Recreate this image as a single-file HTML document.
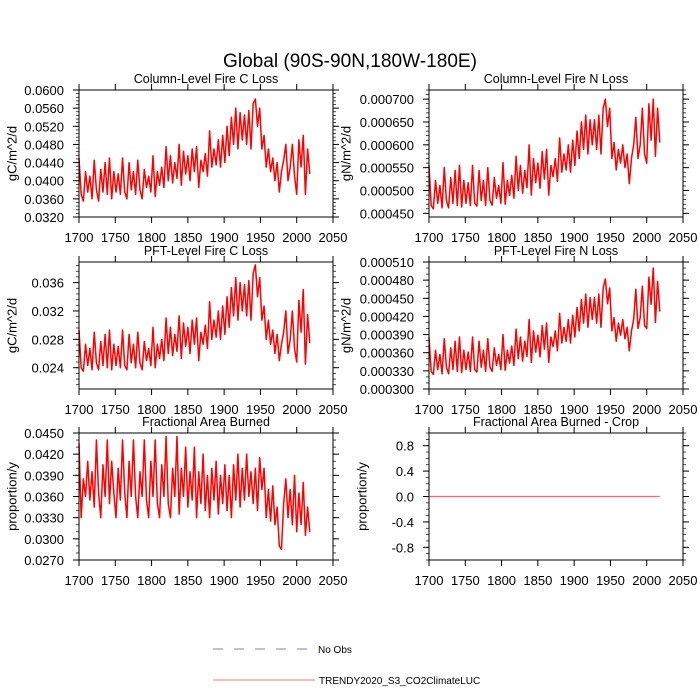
<!DOCTYPE html>
<html><head><meta charset="utf-8"><style>
html,body{margin:0;padding:0;background:#fff;}
svg{display:block;font-family:"Liberation Sans",Arial,sans-serif;}
</style></head><body>
<svg id="chart" width="700" height="700" viewBox="0 0 700 700">
<text x="350" y="67" font-size="19" text-anchor="middle" textLength="254" lengthAdjust="spacingAndGlyphs">Global (90S-90N,180W-180E)</text>
<g>
<line x1="213" y1="649" x2="308" y2="649" stroke="#7777ff" stroke-width="1" stroke-dasharray="10,11"/>
<text x="318" y="653" font-size="10">No Obs</text>
<line x1="213" y1="680" x2="315" y2="680" stroke="#ff7777" stroke-width="1"/>
<text x="319" y="684" font-size="10">TRENDY2020_S3_CO2ClimateLUC</text>
</g>
</svg>
<script>
const startYear = 1700, endYear = 2018;
const xTicks = [1700,1750,1800,1850,1900,1950,2000,2050];
const colC = [.0450,.0370,.0355,.0420,.0375,.0410,.0360,.0445,.0380,.0355,.0425,.0375,.0440,.0370,.0450,.0360,.0420,.0375,.0415,.0370,.0450,.0375,.0360,.0440,.0380,.0420,.0370,.0445,.0380,.0360,.0425,.0385,.0410,.0375,.0455,.0365,.0420,.0390,.0430,.0385,.0475,.0400,.0455,.0395,.0440,.0405,.0480,.0390,.0465,.0415,.0455,.0400,.0470,.0420,.0475,.0385,.0445,.0420,.0460,.0410,.0510,.0430,.0470,.0435,.0490,.0430,.0500,.0440,.0520,.0455,.0540,.0480,.0560,.0470,.0550,.0490,.0545,.0480,.0555,.0470,.0570,.0580,.0520,.0560,.0470,.0500,.0430,.0470,.0420,.0450,.0400,.0440,.0375,.0420,.0445,.0480,.0400,.0430,.0480,.0410,.0370,.0490,.0430,.0500,.0370,.0470,.0415];
const colN = [555,467,460,522,472,511,462,550,478,462,528,472,544,467,555,464,522,472,517,467,555,472,466,544,478,522,467,550,478,468,528,483,511,472,561,470,522,489,533,483,575,500,555,494,544,506,600,490,570,517,560,505,585,525,590,490,555,530,570,520,615,540,580,545,600,540,610,555,630,570,650,590,665,580,655,600,655,590,665,580,680,700,640,680,570,605,545,590,560,600,550,580,515,570,600,660,570,600,680,580,560,690,610,700,575,680,605].map(v=>v*1e-6);
const pftC = [.0293,.0240,.0235,.0273,.0243,.0267,.0237,.0290,.0247,.0237,.0277,.0243,.0287,.0240,.0293,.0237,.0273,.0243,.0270,.0240,.0293,.0243,.0237,.0287,.0247,.0273,.0240,.0290,.0247,.0237,.0277,.0250,.0267,.0243,.0297,.0240,.0273,.0253,.0280,.0250,.0310,.0260,.0297,.0257,.0287,.0263,.0313,.0253,.0303,.0270,.0297,.0260,.0307,.0273,.0310,.0250,.0290,.0273,.0300,.0267,.0333,.0280,.0307,.0283,.0320,.0280,.0327,.0287,.0340,.0297,.0353,.0313,.0367,.0307,.0360,.0320,.0357,.0313,.0363,.0307,.0373,.0385,.0340,.0367,.0307,.0327,.0280,.0307,.0273,.0293,.0260,.0287,.0250,.0273,.0290,.0320,.0260,.0280,.0320,.0267,.0248,.0335,.0290,.0350,.0245,.0315,.0275];
const pftN = [386,329,324,364,332,357,325,383,336,325,368,332,379,329,386,327,364,332,361,329,386,332,328,379,336,364,329,383,336,329,368,339,357,332,390,331,364,343,371,339,399,350,386,346,379,354,415,344,396,361,389,353,405,366,409,344,386,370,396,363,425,376,402,379,415,376,422,386,435,396,448,409,457,402,451,415,451,409,457,402,467,482,441,467,396,418,379,409,389,415,383,402,363,396,415,465,400,418,470,405,400,485,440,500,410,478,428].map(v=>v*1e-6);
const fracBurned = [.0435,.0330,.0385,.0360,.0410,.0355,.0395,.0345,.0440,.0365,.0330,.0405,.0360,.0440,.0350,.0410,.0365,.0330,.0400,.0355,.0440,.0365,.0330,.0410,.0360,.0440,.0360,.0330,.0395,.0360,.0440,.0355,.0330,.0410,.0360,.0440,.0350,.0330,.0405,.0360,.0445,.0350,.0330,.0400,.0360,.0445,.0335,.0400,.0360,.0430,.0345,.0395,.0355,.0430,.0330,.0395,.0350,.0420,.0340,.0390,.0330,.0400,.0355,.0410,.0335,.0390,.0350,.0405,.0340,.0390,.0330,.0405,.0355,.0420,.0345,.0400,.0355,.0420,.0360,.0395,.0350,.0400,.0340,.0415,.0370,.0400,.0330,.0370,.0325,.0375,.0320,.0345,.0290,.0285,.0350,.0385,.0330,.0370,.0320,.0390,.0310,.0365,.0320,.0380,.0305,.0345,.0310];
const fracCrop = [0,0,0,0,0,0,0,0];
const ticksColC = ["0.0320","0.0360","0.0400","0.0440","0.0480","0.0520","0.0560","0.0600"];
const ticksColN = ["0.000450","0.000500","0.000550","0.000600","0.000650","0.000700"];
const ticksPftC = ["0.024","0.028","0.032","0.036"];
const ticksPftN = ["0.000300","0.000330","0.000360","0.000390","0.000420","0.000450","0.000480","0.000510"];
const ticksFrac = ["0.0270","0.0300","0.0330","0.0360","0.0390","0.0420","0.0450"];
const ticksCrop = ["-0.8","-0.4","0.0","0.4","0.8"];

const NS="http://www.w3.org/2000/svg";
const svg=document.getElementById('chart');
function mk(tag,attrs,parent){const e=document.createElementNS(NS,tag);for(const k in attrs)e.setAttribute(k,attrs[k]);(parent||svg).appendChild(e);return e;}

const panels=[
 {name:'column-c-loss',title:'Column-Level Fire C Loss',unit:'gC/m^2/d',x0:79,y0:90,ymin:0.032,ymax:0.060,data:colC,ticks:ticksColC,minor:0.0008,tx:12},
 {name:'column-n-loss',title:'Column-Level Fire N Loss',unit:'gN/m^2/d',x0:429,y0:90,ymin:0.000442,ymax:0.00072,data:colN,ticks:ticksColN,minor:0.00001,tx:346},
 {name:'pft-c-loss',title:'PFT-Level Fire C Loss',unit:'gC/m^2/d',x0:79,y0:262,ymin:0.021,ymax:0.0389,data:pftC,ticks:ticksPftC,minor:0.0008,tx:12},
 {name:'pft-n-loss',title:'PFT-Level Fire N Loss',unit:'gN/m^2/d',x0:429,y0:262,ymin:0.0003,ymax:0.00051,data:pftN,ticks:ticksPftN,minor:0.00001,tx:346},
 {name:'fraction-burned',title:'Fractional Area Burned',unit:'proportion/y',x0:79,y0:433,ymin:0.027,ymax:0.045,data:fracBurned,ticks:ticksFrac,minor:0.001,tx:12},
 {name:'fraction-burned-crop',title:'Fractional Area Burned - Crop',unit:'proportion/y',x0:429,y0:433,ymin:-1,ymax:1,data:fracCrop,ticks:ticksCrop,minor:0.1,tx:362}
];
const W=254,H=127;
panels.forEach(p=>{
 const g=mk('g',{});
 
 
 const xs=v=>p.x0+(v-1700)/(2050-1700)*W;
 const ys=v=>p.y0+H-(v-p.ymin)/(p.ymax-p.ymin)*H;
 const n=p.data.length;
 const pts=p.data.map((v,i)=>xs(startYear+i*(endYear-startYear)/(n-1)).toFixed(2)+','+ys(v).toFixed(2)).join(' ');
 const line=mk('polyline',{points:pts,fill:'none',stroke:p.name==='fraction-burned-crop'?'#ff6666':'#ff0000','stroke-width':p.name==='fraction-burned-crop'?1.2:1.5,'stroke-linejoin':'round'},g);
 
 
 const fr=mk('rect',{x:p.x0,y:p.y0,width:W,height:H,fill:'none',stroke:'#000','stroke-width':1},g);
 
 
 xTicks.forEach(t=>{
  const x=xs(t);
  mk('line',{x1:x,y1:p.y0+H,x2:x,y2:p.y0+H+6,stroke:'#000'},g);
  mk('line',{x1:x,y1:p.y0,x2:x,y2:p.y0-6,stroke:'#000'},g);
  const tl=mk('text',{x:x,y:p.y0+H+25,'font-size':13,'text-anchor':'middle'},g);
  tl.textContent=t;
  
  
 });
 const start=Math.ceil(p.ymin/p.minor-1e-6);
 for(let k=start;k*p.minor<=p.ymax+1e-12;k++){
  const y=ys(k*p.minor);
  mk('line',{x1:p.x0,y1:y,x2:p.x0-3,y2:y,stroke:'#000','stroke-width':0.7},g);
  mk('line',{x1:p.x0+W,y1:y,x2:p.x0+W+3,y2:y,stroke:'#000','stroke-width':0.7},g);
 }
 p.ticks.forEach(s=>{
  const y=ys(parseFloat(s));
  mk('line',{x1:p.x0,y1:y,x2:p.x0-6,y2:y,stroke:'#000'},g);
  mk('line',{x1:p.x0+W,y1:y,x2:p.x0+W+6,y2:y,stroke:'#000'},g);
  const tl=mk('text',{x:p.x0-15,y:y+5,'font-size':13,'text-anchor':'end'},g);
  tl.textContent=s;
  
  
 });
 const st=mk('text',{x:p.x0+W/2,y:p.y0-7,'font-size':12.5,'text-anchor':'middle'},g);
 st.textContent=p.title;
 
 
 const ax=p.tx;
 const yt=mk('text',{x:ax,y:p.y0+H/2,'font-size':13,'text-anchor':'middle','dominant-baseline':'central',transform:`rotate(-90 ${ax} ${p.y0+H/2})`},g);
 yt.textContent=p.unit;
 
 
});
</script>
</body></html>
